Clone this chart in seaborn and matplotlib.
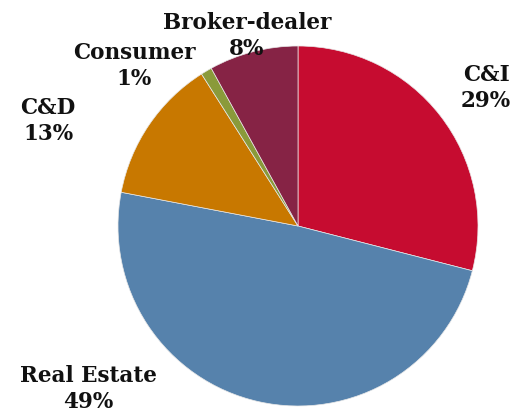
import numpy as np
import matplotlib
matplotlib.use('Agg')
import matplotlib.pyplot as plt
import seaborn as sns

sns.set_theme(style='white')
plt.rcParams['font.family'] = ['DejaVu Serif']

categories = ['C&I', 'Real Estate', 'C&D', 'Consumer', 'Broker-dealer']
shares = [29, 49, 13, 1, 8]
colors = sns.color_palette(['#C60C30', '#5682AC', '#C87800', '#8A9A3A', '#862345'])

# label centres in pixels (x, y from top) -> two lines per label
label_px = {
    'C&I': (486, 88),
    'Real Estate': (88, 389),
    'C&D': (48, 121),
    'Consumer': (134, 66),
    'Broker-dealer': (247, 36),
}

W, H = 517, 415
cx, cy, r = 298, 226, 180

fig = plt.figure(figsize=(W / 100, H / 100), dpi=100)
ax = fig.add_axes([(cx - r) / W, (H - cy - r) / H, 2 * r / W, 2 * r / H])
ax.pie(shares, colors=colors, startangle=90, counterclock=False, radius=1,
       wedgeprops=dict(linewidth=0.5, edgecolor='#e8e8e8'))
ax.set_xlim(-1, 1)
ax.set_ylim(-1, 1)
ax.set_aspect('equal')
ax.axis('off')

for name, val in zip(categories, shares):
    px, py = label_px[name]
    ax.text((px - cx) / r, (cy - py) / r, f'{name}\n{val}%', ha='center', va='center',
            fontsize=15.5, fontweight='bold', color='#111111', linespacing=1.25)

fig.savefig('out.png', dpi=100)
